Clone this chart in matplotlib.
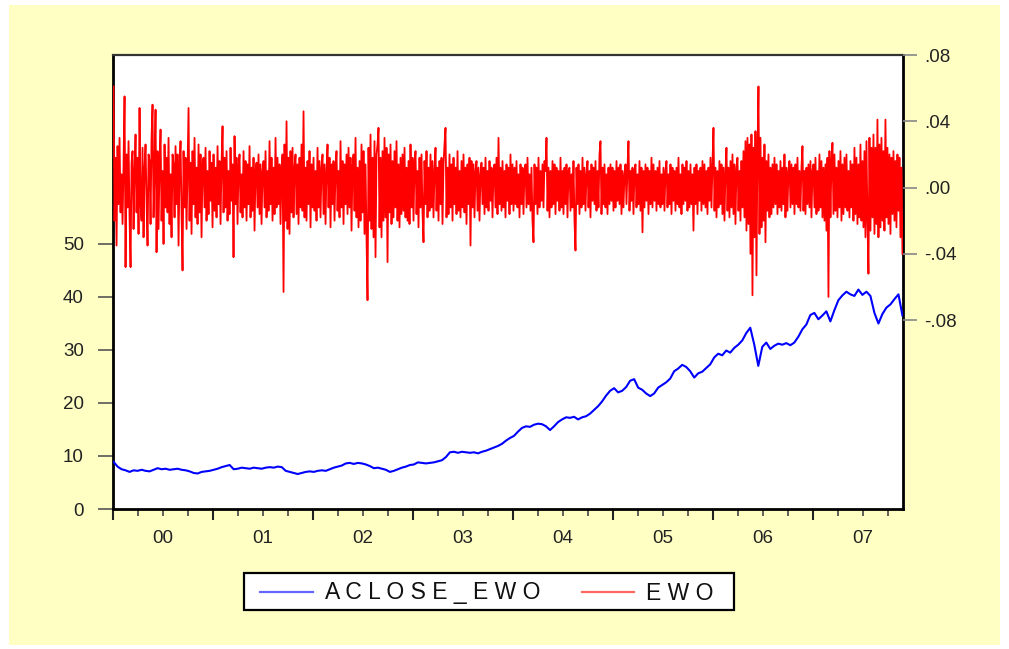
import numpy as np
import pandas as pd
import matplotlib
matplotlib.use('Agg')
import matplotlib.pyplot as plt
import matplotlib.dates as mdates
import matplotlib.ticker as mticker
from matplotlib.patches import Rectangle
from matplotlib.lines import Line2D

plt.rcParams['font.family'] = ['Liberation Sans', 'DejaVu Sans']

# ---------------- data ----------------
# ACLOSE_EWO (left axis), sampled roughly every ~2 weeks, Jan 2000 - Nov 2007
aclose_ewo = [
    8.9, 8.0, 7.5, 7.3, 7.0, 7.3, 7.2, 7.4, 7.2, 7.1,
    7.4, 7.7, 7.5, 7.6, 7.4, 7.5, 7.6, 7.4, 7.3, 7.1,
    6.8, 6.7, 7.0, 7.1, 7.2, 7.4, 7.6, 7.9, 8.1, 8.3,
    7.5, 7.6, 7.8, 7.7, 7.6, 7.8, 7.7, 7.6, 7.8, 7.9,
    7.8, 8.0, 7.9, 7.2, 7.0, 6.8, 6.6, 6.8, 7.0, 7.1,
    7.0, 7.2, 7.3, 7.2, 7.5, 7.8, 8.0, 8.2, 8.6, 8.7,
    8.5, 8.7, 8.6, 8.4, 8.1, 7.7, 7.8, 7.6, 7.4, 7.0,
    7.2, 7.5, 7.8, 8.0, 8.3, 8.4, 8.8, 8.7, 8.6, 8.7,
    8.8, 9.0, 9.2, 9.8, 10.7, 10.8, 10.6, 10.8, 10.7, 10.6,
    10.7, 10.5, 10.8, 11.0, 11.3, 11.6, 11.9, 12.3, 12.9, 13.4,
    13.8, 14.6, 15.3, 15.6, 15.5, 15.9, 16.1, 16.0, 15.6, 14.9,
    15.6, 16.4, 16.9, 17.3, 17.2, 17.4, 16.9, 17.3, 17.5, 18.0,
    18.7, 19.4, 20.3, 21.4, 22.3, 22.8, 22.0, 22.3, 23.0, 24.2,
    24.5, 22.9, 22.5, 21.8, 21.3, 21.8, 22.9, 23.4, 23.9, 24.6,
    26.0, 26.5, 27.2, 26.8, 26.0, 24.8, 25.6, 25.9, 26.6, 27.3,
    28.6, 29.3, 29.0, 29.9, 29.5, 30.4, 31.0, 31.8, 33.2, 34.2,
    31.0, 27.0, 30.6, 31.4, 30.2, 30.8, 31.2, 31.0, 31.3, 30.9,
    31.4, 32.5, 33.9, 34.8, 36.6, 37.0, 35.8, 36.5, 37.3, 35.4,
    37.5, 39.4, 40.3, 41.0, 40.5, 40.2, 41.4, 40.4, 41.0, 40.2,
    37.0, 35.0, 36.8, 38.0, 38.6, 39.6, 40.5, 36.5,
]

# EWO returns (right axis), in thousandths
ewo_milli = [
    # 2000
    61, -20, 18, -35, 25, -10, 30, -15, 8, -22,
    14, 55, -48, 20, -12, 28, -18, -48, 15, 22,
    -25, 10, 32, -15, 18, -28, 48, -10, -20, 24,
    -30, 12, 26, -8, -35, 20, 16, -22, 30, 50,
    -18, 12, 47, -39, 22, -25, 14, 35, -20, 10,
    -34, 26, -12, 18, -15, 30, -22, 8, -30, 20,
    14, -18, 25, -10, 20, -35, 12, 28, -15, -50,
    22, -12, 18, -25, 10, 48, -20, 15, -28, 22,
    -10, 30, -18, 12, -22, 26, -15, 20, -30, 14,
    18, -12, 24, -20, 10, -16, 22, -8, 15, -24,
    # 2001
    20, -14, 12, -18, 25, -10, 16, -22, 14, 37,
    -15, 18, -12, 22, -20, 10, -16, 24, -8, 14,
    -42, 31, -10, 18, -22, 12, 20, -15, 8, -18,
    22, -12, 16, -20, 14, -10, 25, -18, 12, -14,
    18, -26, 10, 15, -12, 20, -16, 14, -22, 10,
    16, -12, 22, -18, 10, -14, 28, -10, 18, -20,
    12, -16, 30, -12, 18, -10, 14, -22, 10, 20,
    -63, 26, -20, 40, -25, 18, -28, 22, -15, 24,
    -18, 12, 20, -16, 14, -22, 18, -12, 26, -14,
    46, -18, 12, -20, 16, -10, 22, -24, 14, -12,
    # 2002
    18, -14, 10, -20, 24, -12, 16, -18, 12, 20,
    -16, 14, -22, 10, 26, -12, 18, -24, 14, -10,
    16, -20, 12, 22, -14, 10, -18, 28, -12, 16,
    -22, 14, -10, 20, -16, 24, -12, 18, -26, 12,
    20, -14, 30, -18, 12, -24, 16, -20, 26, -15,
    22, -28, 14, -30, -68, 24, -20, 32, -25, 18,
    -30, 28, -42, 20, 26, 36, -24, 18, -30, 22,
    -20, 30, -18, 24, -45, 20, -15, 26, -22, 16,
    -18, 22, -12, 28, -20, 14, -24, 18, -16, 20,
    -14, 24, -18, 12, -20, 16, -22, 26, -12, 18,
    # 2003
    -20, 14, 22, -16, 10, -24, 18, -12, 20, -15,
    -33, 16, -10, 22, -18, 12, -14, 20, -12, 16,
    -18, 10, 24, -14, 12, -20, 16, -10, 18, -22,
    14, 26, 36, -18, 12, -16, 20, -12, 14, -20,
    18, -10, 12, -16, 22, -14, 10, -18, 16, -12,
    20, -15, 12, -22, 14, -10, 18, -35, 16, -12,
    14, -18, 10, 16, -14, 12, -20, 8, 15, -10,
    12, -16, 18, -12, 10, -14, 16, -8, 12, -18,
    10, 14, -12, 18, -16, 30, -10, 12, -14, 16,
    -12, 10, -18, 14, -8, 12, -16, 20, -10, 14,
    # 2004
    -14, 12, -10, 16, -12, 8, -18, 14, -10, 12,
    -16, 10, 14, -12, 18, -10, 8, -14, 12, -20,
    -33, 14, -10, 12, -16, 18, -12, 10, -8, 14,
    -12, 16, 10, 30, -14, 12, -18, 10, -12, 16,
    -10, 14, -16, 12, -8, 10, -14, 18, -12, 10,
    -16, 12, -10, 14, -18, 10, 12, -14, 8, -12,
    16, -20, -38, 12, -10, 14, -16, 10, -12, 18,
    -10, 12, -14, 8, 16, -12, 10, -18, 14, -8,
    12, -10, 16, -14, 10, -12, 20, 28, -16, 12,
    -10, 14, -12, 8, -16, 12, -10, 14, -8, 12,
    # 2005
    -14, 10, -12, 16, -8, 12, -10, 14, -16, 10,
    -12, 8, 14, -10, 12, 28, -14, 10, -8, 12,
    -16, 10, 14, -12, 8, -10, 16, -14, 12, -27,
    10, -12, 14, -8, 12, -16, 10, -10, 18, -12,
    14, -8, 10, -14, 12, -10, 16, -12, 8, -10,
    12, -14, 10, 16, -12, 8, -10, 14, -16, 12,
    -8, 10, -14, 12, -10, 18, -12, 8, -16, 14,
    -10, 12, -8, 16, -14, 10, -12, 14, -10, 8,
    -26, 12, -10, 14, -16, 10, -8, 12, -14, 16,
    -10, 14, -12, 10, -16, 12, -8, 18, -12, 14,
    # 2006
    36, -14, 12, -18, 10, -12, 16, -10, 14, -16,
    12, -20, 10, 24, -14, 12, -18, 16, -12, 20,
    -16, 14, -22, 12, 18, -14, 10, -20, 16, -12,
    22, -18, 28, -26, 30, -22, 26, -40, 32, -65,
    24, -30, 34, -53, 20, 61, -28, 30, -24, 18,
    -20, 26, -33, 16, -14, 20, -18, 12, -16, 14,
    -12, 18, -10, 14, -16, 10, -12, 16, -14, 12,
    -10, 20, -18, 12, -14, 10, 16, -12, 14, -10,
    12, -16, 14, -10, 18, -12, 10, -14, 12, 25,
    -14, 10, -16, 12, -10, 14, -12, 16, -18, 10,
    # 2007
    14, -12, 18, -16, 10, -14, 20, -12, 16, -18,
    12, -20, 14, -26, 18, -66, 22, -18, 14, 27,
    -16, 20, -14, 12, -18, 16, -12, 22, -20, 14,
    -16, 18, -12, 20, -14, 10, -18, 16, -12, 14,
    -20, 24, -16, 18, -22, 14, -18, 26, -20, 16,
    -24, 22, -30, 28, -20, -52, 30, -26, 24, -18,
    32, -28, 24, -22, 41, -30, 26, -24, 30, -20,
    22, -26, 41, -18, 24, -22, 20, -28, 18, -16,
    22, -20, 16, -24, 20, -14, 18, -30, 12, -40,
]

start_date, end_date = '2000-01-03', '2007-11-23'
left_ticks = [0, 10, 20, 30, 40, 50]
right_ticks = [-0.08, -0.04, 0.0, 0.04, 0.08]
right_ticklabels = ['-.08', '-.04', '.00', '.04', '.08']
legend_labels = ['A C L O S E _ E W O', 'E W O']

price_dates = pd.date_range(start_date, end_date, periods=len(aclose_ewo))
ewo_dates = pd.date_range(start_date, end_date, periods=len(ewo_milli))
ewo = np.array(ewo_milli) / 1000.0

# ---------------- figure ----------------
W, H = 1009, 649
fig = plt.figure(figsize=(W / 100, H / 100), dpi=100, facecolor='white')
YELLOW = '#FFFFC4'
fig.patches.append(Rectangle((9 / W, 1 - 645 / H), (1000 - 9) / W, (645 - 5) / H,
                             transform=fig.transFigure, facecolor=YELLOW,
                             edgecolor='none', zorder=-10))

ax = fig.add_axes([113 / W, 1 - 509 / H, 790 / W, 454 / H])
ax.set_facecolor('white')
ax2 = ax.twinx()

ax.plot(price_dates, aclose_ewo, color='#0000FF', lw=1.5, zorder=3)
ax2.plot(ewo_dates, ewo, color='#FF0000', lw=1.3, zorder=3)

ax.set_xlim(pd.Timestamp('2000-01-01'), pd.Timestamp('2007-11-25'))
ax.set_ylim(0, 85.66)
ax2.set_ylim(-0.194, 0.08)

ax.set_yticks(left_ticks)
ax.set_yticklabels([str(t) for t in left_ticks])
ax2.set_yticks(right_ticks)
ax2.set_yticklabels(right_ticklabels)

# x axis: year boundaries (major), quarters (minor), labels at mid-year
ax.xaxis.set_major_locator(mdates.YearLocator())
ax.xaxis.set_major_formatter(mticker.NullFormatter())
ax.xaxis.set_minor_locator(mdates.MonthLocator(bymonth=[4, 7, 10]))

def minor_fmt(x, pos):
    d = mdates.num2date(x)
    return d.strftime('%y') if d.month == 7 else ''

ax.xaxis.set_minor_formatter(mticker.FuncFormatter(minor_fmt))

lab_col = '#222222'
tick_col = '#555555'
ax.tick_params(axis='x', which='major', direction='out', length=8, width=1.5,
               color='#222222')
ax.tick_params(axis='x', which='minor', direction='out', length=5, width=1.2,
               color='#444444', pad=10, labelsize=13.5, labelcolor=lab_col)
ax.tick_params(axis='y', which='major', direction='out', length=11, width=1.2,
               color=tick_col, pad=10, labelsize=13.5, labelcolor=lab_col)
ax2.tick_params(axis='y', which='major', direction='out', length=10, width=1.2,
                color='#888888', pad=5, labelsize=13.5, labelcolor=lab_col)

for s in ax.spines.values():
    s.set_color('black')
    s.set_linewidth(2.0)
ax.spines['top'].set_color('#333333')
ax.spines['top'].set_linewidth(1.6)
for s in ax2.spines.values():
    s.set_visible(False)

# ---------------- legend (box below plot) ----------------
px = lambda x, y: (x / W, 1 - y / H)
lx0, ly0, lx1, ly1 = 244, 573, 734, 610
fig.patches.append(Rectangle(px(lx0, ly1), (lx1 - lx0) / W, (ly1 - ly0) / H,
                             transform=fig.transFigure, facecolor='white',
                             edgecolor='black', lw=1.6, zorder=5))
ly = 592
for (xa, xb, col, tx, lab) in [(260, 313, '#6666FF', 325, legend_labels[0]),
                               (582, 634, '#FF6666', 646, legend_labels[1])]:
    fig.lines.append(Line2D([xa / W, xb / W], [1 - ly / H, 1 - ly / H],
                            transform=fig.transFigure, color=col, lw=1.6,
                            zorder=6))
    fig.text(tx / W, 1 - (ly + 1) / H, lab, fontsize=16.5, color='#111111',
             ha='left', va='center', zorder=7)

fig.savefig('out.png', dpi=100, facecolor='white')
